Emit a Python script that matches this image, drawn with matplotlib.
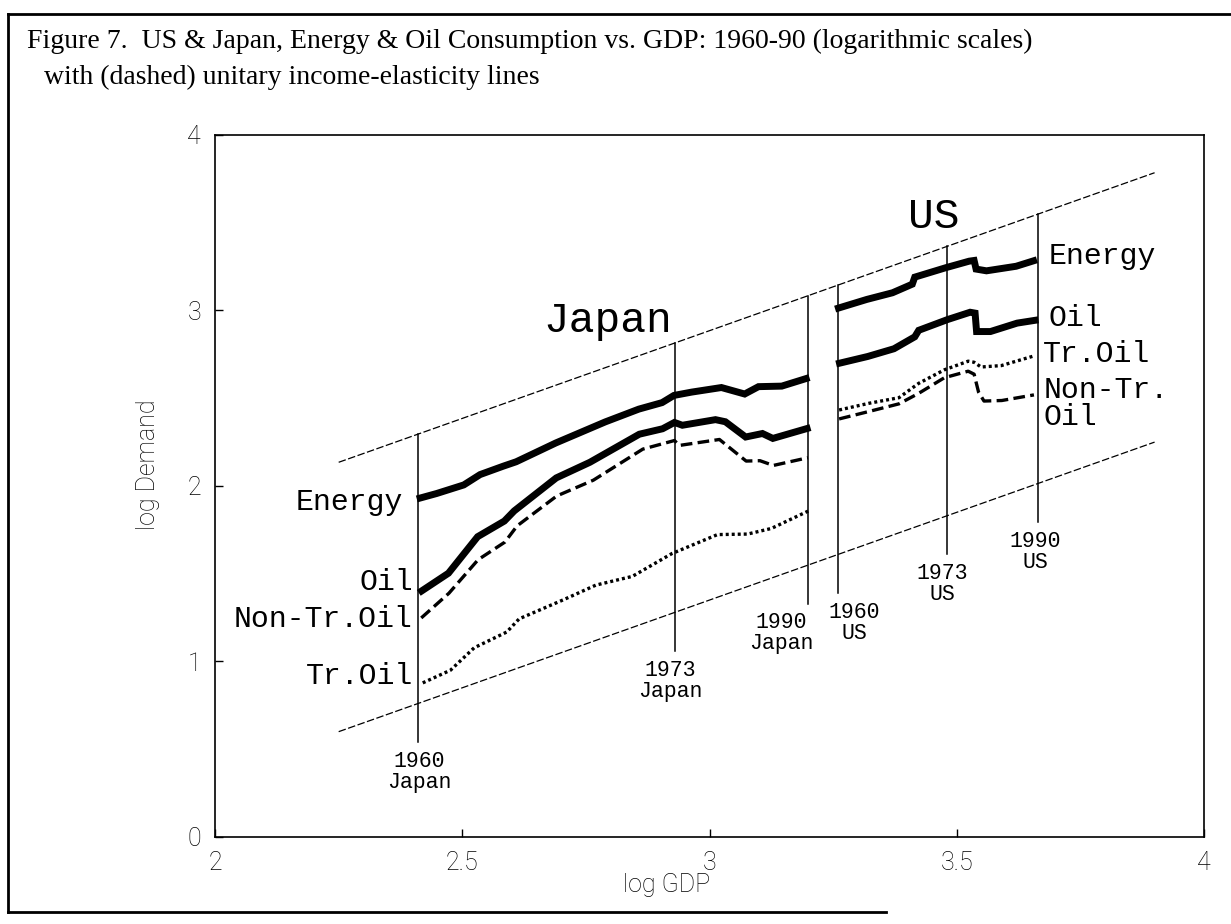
import matplotlib
matplotlib.use("Agg")
import matplotlib.pyplot as plt
from matplotlib.lines import Line2D

# log GDP / log demand pairs
jp_energy_x = [2.408, 2.448, 2.503, 2.536, 2.583, 2.609, 2.689, 2.789, 2.857, 2.904, 2.928, 2.964, 3.024, 3.071, 3.099, 3.146, 3.202]
jp_energy_y = [1.926, 1.957, 2.006, 2.065, 2.113, 2.138, 2.245, 2.365, 2.438, 2.475, 2.516, 2.535, 2.561, 2.524, 2.566, 2.569, 2.618]
jp_oil_x = [2.412, 2.472, 2.531, 2.585, 2.605, 2.690, 2.758, 2.858, 2.905, 2.929, 2.945, 3.012, 3.032, 3.073, 3.107, 3.128, 3.204]
jp_oil_y = [1.391, 1.503, 1.711, 1.800, 1.858, 2.046, 2.135, 2.295, 2.326, 2.362, 2.346, 2.378, 2.366, 2.279, 2.299, 2.271, 2.333]
jp_nontr_x = [2.417, 2.473, 2.532, 2.586, 2.611, 2.691, 2.765, 2.865, 2.929, 2.939, 3.020, 3.074, 3.102, 3.129, 3.199]
jp_nontr_y = [1.248, 1.389, 1.580, 1.680, 1.773, 1.943, 2.033, 2.210, 2.259, 2.231, 2.265, 2.142, 2.144, 2.117, 2.161]
jp_tr_x = [2.420, 2.476, 2.524, 2.590, 2.615, 2.704, 2.770, 2.844, 2.924, 3.016, 3.077, 3.125, 3.201]
jp_tr_y = [0.878, 0.950, 1.078, 1.168, 1.243, 1.351, 1.435, 1.485, 1.615, 1.723, 1.726, 1.758, 1.859]

us_energy_x = [3.254, 3.318, 3.370, 3.410, 3.415, 3.478, 3.525, 3.535, 3.539, 3.560, 3.620, 3.662]
us_energy_y = [3.008, 3.063, 3.101, 3.150, 3.190, 3.244, 3.281, 3.285, 3.236, 3.226, 3.252, 3.289]
us_oil_x = [3.256, 3.320, 3.373, 3.415, 3.423, 3.481, 3.527, 3.537, 3.540, 3.568, 3.622, 3.665]
us_oil_y = [2.695, 2.738, 2.782, 2.850, 2.887, 2.948, 2.990, 2.985, 2.880, 2.880, 2.928, 2.947]
us_tr_x = [3.262, 3.322, 3.383, 3.423, 3.475, 3.523, 3.535, 3.549, 3.590, 3.656]
us_tr_y = [2.433, 2.471, 2.503, 2.585, 2.662, 2.711, 2.705, 2.678, 2.686, 2.741]
us_nontr_x = [3.262, 3.323, 3.383, 3.423, 3.475, 3.523, 3.535, 3.544, 3.555, 3.591, 3.656]
us_nontr_y = [2.382, 2.425, 2.468, 2.528, 2.617, 2.654, 2.637, 2.535, 2.484, 2.487, 2.519]

# unitary elasticity lines: log demand = log GDP + c
elast_x = [2.25, 3.90]
elast_c = [-0.115, -1.65]

# year markers
year_gdp = [2.41, 2.93, 3.20, 3.26, 3.48, 3.665]
year_text = ["1960\nJapan", "1973\nJapan", "1990\nJapan", "1960\nUS", "1973\nUS", "1990\nUS"]
year_text_x = [2.413, 2.921, 3.145, 3.293, 3.471, 3.658]
drop_below = 0.22

mono = "Liberation Mono"
thick = dict(color="black", lw=5, solid_joinstyle="miter", solid_capstyle="butt")
dashed = dict(color="black", lw=2.4, linestyle=(0, (3.5, 1.6)))
dotted = dict(color="black", lw=2.4, linestyle=(0, (0.9, 0.9)))

fig = plt.figure(figsize=(12.31, 9.24), dpi=100)
ax = fig.add_axes([0.1747, 0.0942, 0.8034, 0.7597])

for c in elast_c:
    ax.plot(elast_x, [x + c for x in elast_x], color="black", lw=0.9, linestyle=(0, (6, 2)))

for g, txt, tx in zip(year_gdp, year_text, year_text_x):
    top = g + elast_c[0]
    bottom = g + elast_c[1] - drop_below
    ax.plot([g, g], [bottom, top], color="black", lw=1.1)
    ax.text(tx, bottom - 0.05, txt, ha="center", va="top", family=mono, fontsize=15.5, linespacing=1.0)

ax.plot(jp_energy_x, jp_energy_y, **thick)
ax.plot(jp_oil_x, jp_oil_y, **thick)
ax.plot(jp_nontr_x, jp_nontr_y, **dashed)
ax.plot(jp_tr_x, jp_tr_y, **dotted)
ax.plot(us_energy_x, us_energy_y, **thick)
ax.plot(us_oil_x, us_oil_y, **thick)
ax.plot(us_nontr_x, us_nontr_y, **dashed)
ax.plot(us_tr_x, us_tr_y, **dotted)

lab = dict(family=mono, fontsize=21.5, va="center")
ax.text(2.38, 1.91, "Energy", ha="right", **lab)
ax.text(2.40, 1.45, "Oil", ha="right", **lab)
ax.text(2.40, 1.24, "Non-Tr.Oil", ha="right", **lab)
ax.text(2.40, 0.92, "Tr.Oil", ha="right", **lab)
ax.text(3.686, 3.31, "Energy", ha="left", **lab)
ax.text(3.685, 2.96, "Oil", ha="left", **lab)
ax.text(3.674, 2.75, "Tr.Oil", ha="left", **lab)
ax.text(3.676, 2.47, "Non-Tr.\nOil", ha="left", linespacing=0.95, **lab)

ax.text(2.795, 2.94, "Japan", ha="center", va="center", family=mono, fontsize=31)
ax.text(3.454, 3.53, "US", ha="center", va="center", family=mono, fontsize=31)

ax.set_xlim(2, 4)
ax.set_ylim(0, 4)
ax.set_xticks([2, 2.5, 3, 3.5, 4])
ax.set_xticklabels(["2", "2.5", "3", "3.5", "4"])
ax.set_yticks([0, 1, 2, 3, 4])
ax.tick_params(direction="in", length=6, width=1, pad=10, labelsize=18)
for t in ax.get_xticklabels() + ax.get_yticklabels():
    t.set_family("Roboto")
    t.set_fontweight("light")
for s in ax.spines.values():
    s.set_linewidth(1.2)

ax.set_xlabel("log GDP", family="Roboto", fontweight="light", fontsize=18)
ax.xaxis.set_label_coords(0.457, -0.052)
ax.set_ylabel("log Demand", family="Roboto", fontweight="light", fontsize=18)
ax.yaxis.set_label_coords(-0.056, 0.53)

fig.text(0.022, 0.955, "Figure 7.  US & Japan, Energy & Oil Consumption vs. GDP: 1960-90 (logarithmic scales)",
         family="Liberation Serif", fontsize=20, va="center")
fig.text(0.036, 0.916, "with (dashed) unitary income-elasticity lines",
         family="Liberation Serif", fontsize=20, va="center")

# page frame around the figure
for xs, ys in [([0.0065, 0.0065], [0.013, 0.985]), ([0.0065, 1.0], [0.985, 0.985]), ([0.0065, 0.72], [0.013, 0.013])]:
    fig.add_artist(Line2D(xs, ys, transform=fig.transFigure, color="black", lw=2))

fig.savefig("out.png", dpi=100)
